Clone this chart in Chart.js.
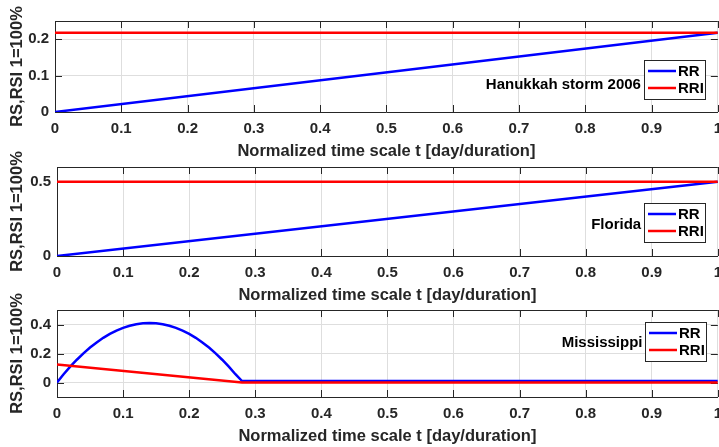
<!DOCTYPE html>
<html>
<head>
<meta charset="utf-8">
<script src="https://cdn.jsdelivr.net/npm/chart.js@4.4.1/dist/chart.umd.min.js"></script>
<style>
    html, body { margin: 0; padding: 0; background: #fff; overflow: hidden; }
    #wrap { position: relative; width: 719px; height: 447px; overflow: hidden; }
    #wrap canvas { position: absolute; left: 0; top: 0; }
</style>
</head>
<body>
<div id="wrap">
    <canvas id="chart-hanukkah" width="730" height="447"></canvas>
    <canvas id="chart-florida" width="730" height="447"></canvas>
    <canvas id="chart-mississippi" width="730" height="447"></canvas>
</div>
<script>
// shared x axis
const xTicks = [0, 0.1, 0.2, 0.3, 0.4, 0.5, 0.6, 0.7, 0.8, 0.9, 1];
const xTickLabels = ['0', '0.1', '0.2', '0.3', '0.4', '0.5', '0.6', '0.7', '0.8', '0.9', '1'];

// Hanukkah storm 2006
const hanukkahTime = [0, 1];
const hanukkahRR = [0, 0.218];
const hanukkahRRI = [0.218, 0.218];
const hanukkahYTicks = [0, 0.1, 0.2];
const hanukkahYTickLabels = ['0', '0.1', '0.2'];

// Florida
const floridaTime = [0, 1];
const floridaRR = [0, 0.5];
const floridaRRI = [0.5, 0.5];
const floridaYTicks = [0, 0.5];
const floridaYTickLabels = ['0', '0.5'];

// Mississippi
const mississippiTimeRR = [0, 0.01, 0.02, 0.03, 0.04, 0.05, 0.06, 0.07, 0.08, 0.09, 0.1, 0.11, 0.12, 0.13, 0.14,
    0.15, 0.16, 0.17, 0.18, 0.19, 0.2, 0.21, 0.22, 0.23, 0.24, 0.25, 0.26, 0.27, 0.28, 1];
const mississippiRR = [0, 0.057, 0.109, 0.157, 0.201, 0.241, 0.276, 0.308, 0.335, 0.358, 0.377, 0.391, 0.402, 0.408, 0.41,
    0.408, 0.402, 0.391, 0.377, 0.358, 0.335, 0.308, 0.276, 0.241, 0.201, 0.157, 0.109, 0.057, 0.01, 0.01];
const mississippiTimeRRI = [0, 0.28, 1];
const mississippiRRI = [0.125, 0, 0];
const mississippiYTicks = [0, 0.2, 0.4];
const mississippiYTickLabels = ['0', '0.2', '0.4'];

const FONT = "'Liberation Sans', Arial, Helvetica, sans-serif";
const AXIS_COLOR = '#262626';

function toPoints(xs, ys) {
    return xs.map((x, i) => ({ x: x, y: ys[i] }));
}

// MATLAB style box: inner ticks, top border, legend box and the storm label
const matlabAxes = {
    id: 'matlabAxes',
    beforeDatasetsDraw(chart) {
        const { ctx, chartArea: a, scales: { x, y } } = chart;
        ctx.save();
        ctx.strokeStyle = AXIS_COLOR;
        ctx.lineWidth = 1;
        ctx.beginPath();
        x.ticks.forEach(t => {
            const px = Math.round(x.getPixelForValue(t.value)) + 0.5;
            ctx.moveTo(px, a.bottom);
            ctx.lineTo(px, a.bottom - 7);
            ctx.moveTo(px, a.top);
            ctx.lineTo(px, a.top + 7);
        });
        y.ticks.forEach(t => {
            const py = Math.round(y.getPixelForValue(t.value)) + 0.5;
            ctx.moveTo(a.left, py);
            ctx.lineTo(a.left + 7, py);
            ctx.moveTo(a.right, py);
            ctx.lineTo(a.right - 7, py);
        });
        const top = Math.round(a.top) + 0.5;
        ctx.moveTo(a.left, top);
        ctx.lineTo(a.right, top);
        ctx.stroke();
        ctx.restore();
    },
    afterDraw(chart, args, opts) {
        const { ctx, chartArea: a, scales: { x, y } } = chart;
        ctx.save();

        ctx.font = `bold 15px ${FONT}`;
        ctx.fillStyle = '#000';
        ctx.textAlign = 'right';
        ctx.textBaseline = 'middle';
        ctx.fillText(opts.label, x.getPixelForValue(opts.labelX), y.getPixelForValue(opts.labelY));

        const bx = Math.round(a.right + opts.legendDx);
        const by = Math.round(a.top + opts.legendDy);
        ctx.fillStyle = '#fff';
        ctx.fillRect(bx, by, 61, 39);
        ctx.strokeStyle = AXIS_COLOR;
        ctx.lineWidth = 1;
        ctx.strokeRect(bx + 0.5, by + 0.5, 61, 39);

        ctx.textAlign = 'left';
        chart.data.datasets.forEach((ds, i) => {
            const ly = by + 11 + i * 17;
            ctx.strokeStyle = ds.borderColor;
            ctx.lineWidth = 2.5;
            ctx.beginPath();
            ctx.moveTo(bx + 4, ly);
            ctx.lineTo(bx + 32, ly);
            ctx.stroke();
            ctx.fillStyle = '#000';
            ctx.fillText(ds.label, bx + 34, ly + 1);
        });
        ctx.restore();
    }
};

function makeChart(id, cfg) {
    return new Chart(document.getElementById(id), {
        type: 'line',
        data: {
            datasets: [
                {
                    label: 'RR',
                    data: cfg.rr,
                    borderColor: '#0000ff',
                    borderWidth: 2.5,
                    pointRadius: 0,
                    tension: 0,
                    order: 1
                },
                {
                    label: 'RRI',
                    data: cfg.rri,
                    borderColor: '#ff0000',
                    borderWidth: 2.5,
                    pointRadius: 0,
                    tension: 0,
                    order: 0
                }
            ]
        },
        options: {
            responsive: false,
            animation: false,
            layout: {
                padding: { left: 0, right: 9, top: cfg.top, bottom: 447 - cfg.bottom - 49 }
            },
            scales: {
                x: {
                    type: 'linear',
                    min: 0,
                    max: 1,
                    afterBuildTicks: scale => { scale.ticks = xTicks.map(v => ({ value: v })); },
                    afterFit: scale => { scale.height = 49; },
                    ticks: {
                        callback: (v, i) => xTickLabels[i],
                        autoSkip: false,
                        maxRotation: 0,
                        padding: 8,
                        color: AXIS_COLOR,
                        font: { family: FONT, size: 15, weight: 'bold' }
                    },
                    grid: { color: '#dedede', lineWidth: 1, drawTicks: false },
                    border: { display: true, color: AXIS_COLOR, width: 1 },
                    title: {
                        display: true,
                        text: 'Normalized time scale t [day/duration]',
                        color: AXIS_COLOR,
                        padding: { top: 0, bottom: 0 },
                        font: { family: FONT, size: 16.5, weight: 'bold' }
                    }
                },
                y: {
                    type: 'linear',
                    min: cfg.yMin,
                    max: cfg.yMax,
                    afterBuildTicks: scale => { scale.ticks = cfg.yTicks.map(v => ({ value: v })); },
                    afterFit: scale => { scale.width = cfg.left; },
                    ticks: {
                        callback: (v, i) => cfg.yTickLabels[i],
                        padding: 6,
                        color: AXIS_COLOR,
                        font: { family: FONT, size: 15, weight: 'bold' }
                    },
                    grid: { color: '#dedede', lineWidth: 1, drawTicks: false },
                    border: { display: true, color: AXIS_COLOR, width: 1 },
                    title: {
                        display: true,
                        text: 'RS,RSI 1=100%',
                        color: AXIS_COLOR,
                        padding: { top: 7.5, bottom: 0 },
                        font: { family: FONT, size: 16.5, weight: 'bold' }
                    }
                }
            },
            plugins: {
                legend: { display: false },
                tooltip: { enabled: false },
                matlabAxes: {
                    label: cfg.label,
                    labelX: cfg.labelX,
                    labelY: cfg.labelY,
                    legendDx: cfg.legendDx,
                    legendDy: cfg.legendDy
                }
            }
        },
        plugins: [matlabAxes]
    });
}

makeChart('chart-hanukkah', {
    rr: toPoints(hanukkahTime, hanukkahRR),
    rri: toPoints(hanukkahTime, hanukkahRRI),
    yMin: 0, yMax: 0.25,
    yTicks: hanukkahYTicks, yTickLabels: hanukkahYTickLabels,
    top: 21, bottom: 112, left: 55,
    label: 'Hanukkah storm 2006', labelX: 0.884, labelY: 0.074,
    legendDx: -74, legendDy: 39
});

makeChart('chart-florida', {
    rr: toPoints(floridaTime, floridaRR),
    rri: toPoints(floridaTime, floridaRRI),
    yMin: 0, yMax: 0.6,
    yTicks: floridaYTicks, yTickLabels: floridaYTickLabels,
    top: 167, bottom: 256, left: 57,
    label: 'Florida', labelX: 0.884, labelY: 0.21,
    legendDx: -74, legendDy: 36
});

makeChart('chart-mississippi', {
    rr: toPoints(mississippiTimeRR, mississippiRR),
    rri: toPoints(mississippiTimeRRI, mississippiRRI),
    yMin: -0.1, yMax: 0.5,
    yTicks: mississippiYTicks, yTickLabels: mississippiYTickLabels,
    top: 310, bottom: 397, left: 57,
    label: 'Mississippi', labelX: 0.886, labelY: 0.27,
    legendDx: -73, legendDy: 12
});
</script>
</body>
</html>
